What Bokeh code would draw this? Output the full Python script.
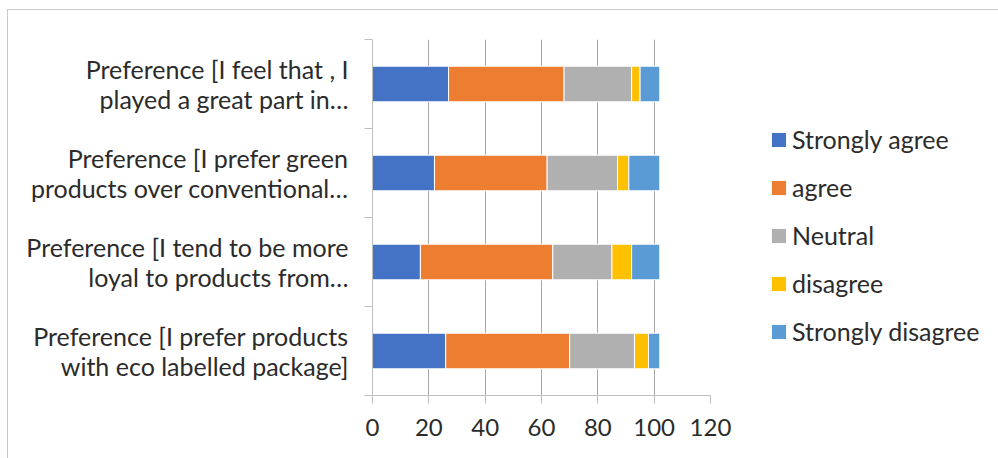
from bokeh.plotting import figure
from bokeh.models import ColumnDataSource, FixedTicker, Legend, LegendItem, Range1d
from bokeh.embed import file_html
from bokeh.resources import INLINE

# Survey statements, listed from the bottom bar to the top bar
statements = [
    "Preference [I prefer products\nwith eco labelled package]",
    "Preference [I tend to be more\nloyal to products from\u2026",
    "Preference [I prefer green\nproducts over conventional\u2026",
    "Preference [I feel that , I\nplayed a great part in\u2026",
]

# Response counts per statement (same order as statements)
strongly_agree = [26, 17, 22, 27]
agree = [44, 47, 40, 41]
neutral = [23, 21, 25, 24]
disagree = [5, 7, 4, 3]
strongly_disagree = [4, 10, 11, 7]

responses = ["Strongly agree", "agree", "Neutral", "disagree", "Strongly disagree"]
colors = ["#4472C4", "#ED7D31", "#B0B0B0", "#FFC000", "#5B9BD5"]
x_ticks = [0, 20, 40, 60, 80, 100, 120]

FONT = "Lato"
TEXT_COLOR = "#2b2b2b"
AXIS_GRAY = "#bfbfbf"
GRID_GRAY = "#a6a6a6"

positions = [i + 0.5 for i in range(len(statements))]
source = ColumnDataSource(dict(
    y=positions,
    **{
        "Strongly agree": strongly_agree,
        "agree": agree,
        "Neutral": neutral,
        "disagree": disagree,
        "Strongly disagree": strongly_disagree,
    }
))

p = figure(
    frame_width=338, frame_height=356,
    x_range=Range1d(0, 120), y_range=Range1d(0, len(statements)),
    output_backend="svg", toolbar_location=None,
    min_border_left=364, min_border_right=288,
    min_border_top=29, min_border_bottom=63,
)
p.styles = {
    "margin-left": "7px",
    "margin-top": "9px",
    "border-left": "1px solid #c8c8c8",
    "border-top": "1px solid #c8c8c8",
}
p.outline_line_color = None
p.background_fill_color = "white"
p.border_fill_color = "white"

renderers = p.hbar_stack(
    responses, y="y", height=0.4, color=colors, source=source,
    line_color="white", line_width=1,
)

# x axis
p.xaxis.ticker = FixedTicker(ticks=x_ticks)
p.xaxis.axis_line_color = AXIS_GRAY
p.xaxis.major_tick_line_color = AXIS_GRAY
p.xaxis.major_tick_out = 8
p.xaxis.major_tick_in = 0
p.xaxis.minor_tick_line_color = None
p.xaxis.major_label_standoff = 15
p.xaxis.major_label_text_font = FONT
p.xaxis.major_label_text_font_size = "24px"
p.xaxis.major_label_text_color = TEXT_COLOR

# y axis: labels at bar centres, tick marks at category boundaries
p.yaxis.ticker = FixedTicker(ticks=positions, minor_ticks=list(range(len(statements) + 1)))
p.yaxis.major_label_overrides = {pos: s for pos, s in zip(positions, statements)}
p.yaxis.axis_line_color = AXIS_GRAY
p.yaxis.major_tick_line_color = None
p.yaxis.minor_tick_line_color = AXIS_GRAY
p.yaxis.minor_tick_out = 8
p.yaxis.minor_tick_in = 0
p.yaxis.major_label_standoff = 16
p.yaxis.major_label_text_font = FONT
p.yaxis.major_label_text_font_size = "25px"
p.yaxis.major_label_text_color = TEXT_COLOR
p.yaxis.major_label_text_line_height = 1.0

p.ygrid.visible = False
p.xgrid.ticker = FixedTicker(ticks=x_ticks)
p.xgrid.grid_line_color = GRID_GRAY

legend = Legend(
    items=[LegendItem(label=name, renderers=[r]) for name, r in zip(responses, renderers)],
    location=(59, 49),
    orientation="vertical",
    glyph_width=19, glyph_height=19,
    label_standoff=4, label_height=30,
    spacing=18, padding=0, margin=0,
    label_text_font=FONT, label_text_font_size="25px",
    label_text_color=TEXT_COLOR,
    border_line_color=None, background_fill_alpha=0,
)
p.add_layout(legend, "right")

open("out.html", "w").write(file_html(p, INLINE))
